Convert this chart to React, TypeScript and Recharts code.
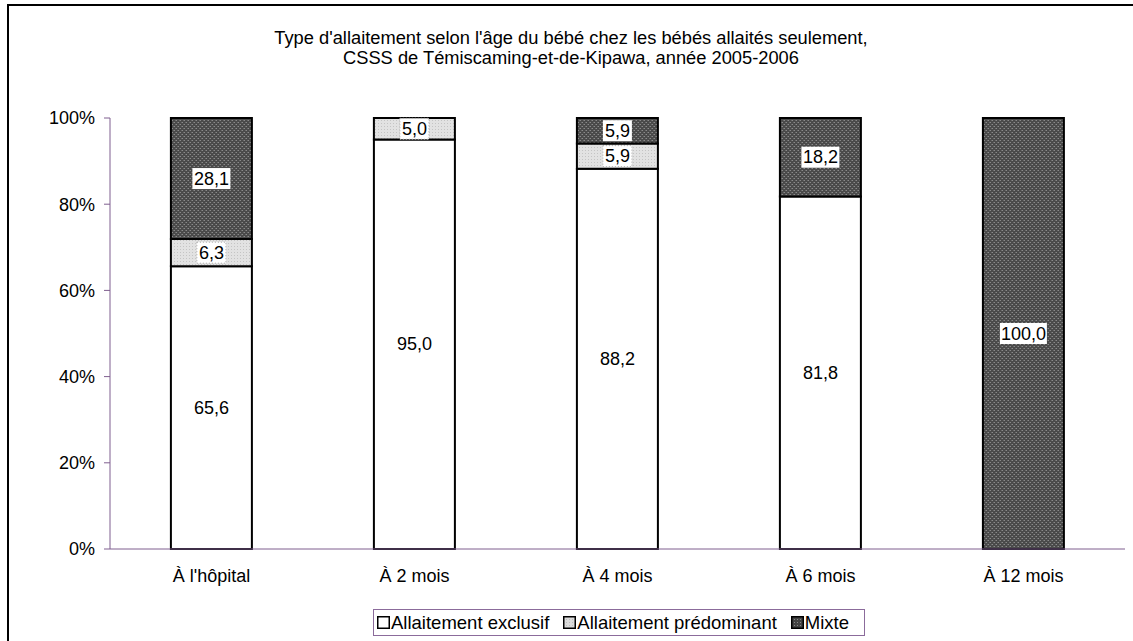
import React from "react";
import { Bar, BarChart, LabelList, XAxis, YAxis } from "recharts";

// Values (percent of breastfed babies)
const categories = ["À l'hôpital", "À 2 mois", "À 4 mois", "À 6 mois", "À 12 mois"];
const exclusif = [65.6, 95.0, 88.2, 81.8, 0];
const predominant = [6.3, 5.0, 5.9, 0, 0];
const mixte = [28.1, 0, 5.9, 18.2, 100];
const yTicks = [0, 20, 40, 60, 80, 100];

const data = categories.map((name, i) => ({
  name,
  exclusif: exclusif[i],
  predominant: predominant[i],
  mixte: mixte[i],
}));

const FONT = "Arial, 'Liberation Sans', sans-serif";
const AXIS = "#7f5f8f";

const fmt = (v: number) => v.toFixed(1).replace(".", ",");

// white box behind each value label, dotted frame for the light series
function makeLabel(dotted: boolean) {
  return (props: any) => {
    const { x, y, width, height, value } = props;
    if (!value) return null;
    const cx = x + width / 2;
    const cy = y + height / 2;
    const txt = fmt(value);
    const w = txt.length * 9 + 2;
    const h = 21;
    return (
      <g>
        <rect
          x={cx - w / 2}
          y={cy - h / 2}
          width={w}
          height={h}
          fill="#fff"
          stroke={dotted ? "#aaa" : "none"}
          strokeDasharray={dotted ? "1 2" : undefined}
        />
        <text
          x={cx}
          y={cy}
          textAnchor="middle"
          dominantBaseline="central"
          fontSize={18}
          fontFamily={FONT}
          fill="#000"
        >
          {txt}
        </text>
      </g>
    );
  };
}

function Swatch({ fill }: { fill: string }) {
  return (
    <svg width={13} height={13} style={{ marginRight: 1 }}>
      <defs>
        <pattern id={"lg" + fill} width={3} height={3} patternUnits="userSpaceOnUse">
          <rect width={3} height={3} fill={fill === "mixte" ? "#444" : "#dcdcdc"} />
          <rect width={1} height={1} fill={fill === "mixte" ? "#888" : "#bdbdbd"} />
        </pattern>
      </defs>
      <rect
        x={0.75}
        y={0.75}
        width={11.5}
        height={11.5}
        fill={fill === "white" ? "#fff" : `url(#lg${fill})`}
        stroke="#000"
        strokeWidth={1.5}
      />
    </svg>
  );
}

export default function App() {
  return (
    <div
      style={{
        position: "absolute",
        left: 0,
        top: 0,
        width: 1133,
        height: 641,
        overflow: "hidden",
        background: "#fff",
        fontFamily: FONT,
      }}
    >
      {/* chart frame, only its left and top edges are in view */}
      <div
        style={{
          position: "absolute",
          left: 7,
          top: 4,
          width: 1200,
          height: 700,
          borderLeft: "2px solid #000",
          borderTop: "2px solid #000",
        }}
      />

      <div
        style={{
          position: "absolute",
          left: 0,
          top: 28,
          width: 1142,
          textAlign: "center",
          fontSize: 18.3,
          lineHeight: "20px",
          color: "#000",
        }}
      >
        Type d'allaitement selon l'âge du bébé chez les bébés allaités seulement,
        <br />
        CSSS de Témiscaming-et-de-Kipawa, année 2005-2006
      </div>

      <div style={{ position: "absolute", left: 0, top: 0 }}>
        <BarChart
          width={1133}
          height={641}
          data={data}
          margin={{ top: 118, right: 8, bottom: 52, left: 0 }}
          barCategoryGap="30%"
        >
          <defs>
            <pattern id="patMixte" width={4} height={4} patternUnits="userSpaceOnUse">
              <rect width={4} height={4} fill="#4a4a4a" />
              <rect x={0} y={0} width={1} height={1} fill="#8a8a8a" />
              <rect x={2} y={2} width={1} height={1} fill="#8a8a8a" />
              <rect x={1} y={2} width={1} height={1} fill="#6a6a6a" />
              <rect x={3} y={0} width={1} height={1} fill="#6a6a6a" />
            </pattern>
            <pattern id="patPred" width={3} height={3} patternUnits="userSpaceOnUse">
              <rect width={3} height={3} fill="#e2e2e2" />
              <rect x={0} y={0} width={1} height={1} fill="#c4c4c4" />
            </pattern>
          </defs>
          <XAxis
            dataKey="name"
            stroke={AXIS}
            tickLine={false}
            tickSize={0}
            tickMargin={20}
            height={40}
            tick={{ fill: "#000", fontSize: 18, fontFamily: FONT }}
          />
          <YAxis
            type="number"
            domain={[0, 100]}
            ticks={yTicks}
            width={110}
            stroke={AXIS}
            tickSize={6}
            tickMargin={9}
            tickFormatter={(v) => `${v}%`}
            tick={{ fill: "#000", fontSize: 18, fontFamily: FONT }}
          />
          <Bar dataKey="exclusif" stackId="a" fill="#fff" stroke="#000" strokeWidth={2} isAnimationActive={false}>
            <LabelList dataKey="exclusif" content={makeLabel(false)} />
          </Bar>
          <Bar dataKey="predominant" stackId="a" fill="url(#patPred)" stroke="#000" strokeWidth={2} isAnimationActive={false}>
            <LabelList dataKey="predominant" content={makeLabel(true)} />
          </Bar>
          <Bar dataKey="mixte" stackId="a" fill="url(#patMixte)" stroke="#000" strokeWidth={2} isAnimationActive={false}>
            <LabelList dataKey="mixte" content={makeLabel(false)} />
          </Bar>
        </BarChart>
      </div>

      {/* legend */}
      <div
        style={{
          position: "absolute",
          left: 373,
          top: 609,
          width: 492,
          height: 27,
          border: "1px solid #8b6b9b",
          display: "flex",
          alignItems: "center",
          justifyContent: "flex-start",
          paddingLeft: 3,
          boxSizing: "border-box",
          fontSize: 18.5,
          color: "#000",
          whiteSpace: "nowrap",
        }}
      >
        <Swatch fill="white" />
        <span style={{ marginRight: 14 }}>Allaitement exclusif</span>
        <Swatch fill="pred" />
        <span style={{ marginRight: 14 }}>Allaitement prédominant</span>
        <Swatch fill="mixte" />
        <span>Mixte</span>
      </div>
    </div>
  );
}
